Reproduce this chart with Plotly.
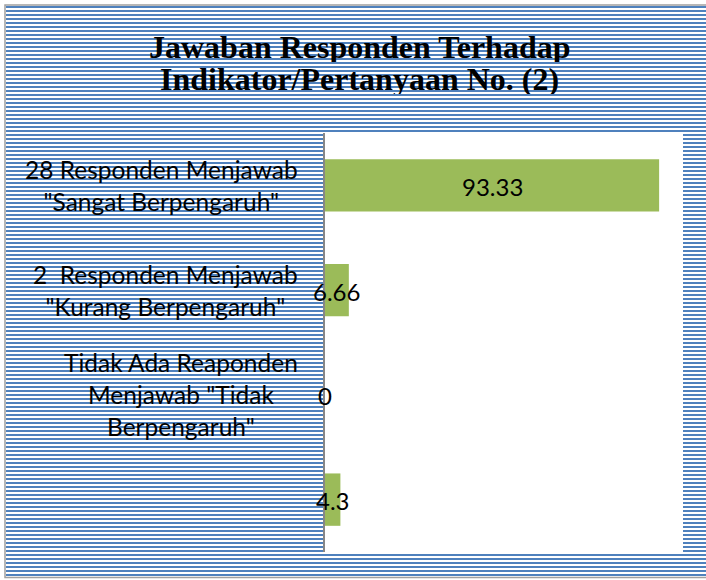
import base64
import plotly.graph_objects as go

# ---- data ----
categories = [
    '28 Responden Menjawab<br>"Sangat Berpengaruh"',
    '2  Responden Menjawab<br>"Kurang Berpengaruh"',
    'Tidak Ada Reaponden<br>Menjawab "Tidak<br>Berpengaruh"',
    '',
]
category_keys = ["c1", "c2", "c3", "c4"]
values = [93.33, 6.66, 0, 4.3]
value_labels = ["93.33", "6.66", "0", "4.3"]
title_lines = ["Jawaban Responden Terhadap", "Indikator/Pertanyaan No. (2)"]

# ---- layout geometry (pixels) ----
W, H = 706, 580
ML, MR, MT, MB = 325, 23, 133, 28
PW, PH = W - ML - MR, H - MT - MB


def px_x(px):
    return (px - ML) / PW


def px_y(py):
    return (H - MB - py) / PH


# striped background image
bx0, by0, bx1, by1 = 6, 6, 716, 577
bw, bh = bx1 - bx0, by1 - by0
svg = (
    f'<svg xmlns="http://www.w3.org/2000/svg" width="{bw}" height="{bh}" '
    f'viewBox="0 0 {bw} {bh}" preserveAspectRatio="none">'
    '<defs><pattern id="p" width="4" height="4" patternUnits="userSpaceOnUse">'
    '<rect width="4" height="4" fill="#ffffff"/>'
    '<rect y="0" width="4" height="2" fill="#4F81BD"/></pattern></defs>'
    f'<rect width="{bw}" height="{bh}" fill="url(#p)"/></svg>'
)
src = "data:image/svg+xml;base64," + base64.b64encode(svg.encode()).decode()

label_font = dict(family="Lato, Carlito, Calibri, sans-serif", size=24.5, color="black")
value_font = dict(family="Lato, Carlito, Calibri, sans-serif", size=24, color="black")
title_font = dict(family="Liberation Serif, Times New Roman, serif", size=32, color="black")

fig = go.Figure()
fig.add_trace(go.Bar(
    x=values, y=category_keys, orientation="h",
    marker=dict(color="#9BBB59", line=dict(width=0)),
    hoverinfo="skip", showlegend=False,
))

annotations = []
for key, v, t in zip(category_keys, values, value_labels):
    annotations.append(dict(
        x=v / 2, xref="x", y=key, yref="y", text=t, showarrow=False,
        xanchor="center", yanchor="middle", yshift=-1, font=value_font,
    ))
for key, lab in zip(category_keys, categories):
    if lab:
        annotations.append(dict(
            x=0, xref="paper", y=key, yref="y", text=lab, showarrow=False,
            xanchor="right", yanchor="middle", align="center", xshift=-25,
            font=label_font,
        ))
for i, line in enumerate(title_lines):
    annotations.append(dict(
        x=px_x(359), xref="paper", y=px_y(47 + 32.5 * i), yref="paper",
        text=f"<b>{line}</b>", showarrow=False, xanchor="center", yanchor="middle",
        height=30, valign="middle", borderpad=0, font=title_font,
    ))

fig.update_layout(
    width=W, height=H,
    margin=dict(l=ML, r=MR, t=MT, b=MB, pad=0),
    paper_bgcolor="white", plot_bgcolor="white",
    bargap=0.5,
    xaxis=dict(range=[0, 100], visible=False, fixedrange=True),
    yaxis=dict(
        autorange="reversed", showticklabels=False, ticks="",
        showline=True, linecolor="#878787", linewidth=2, showgrid=False,
        zeroline=False, fixedrange=True,
    ),
    images=[dict(
        source=src, xref="paper", yref="paper",
        x=px_x(bx0), y=px_y(by0), sizex=bw / PW, sizey=bh / PH,
        xanchor="left", yanchor="top", sizing="stretch", layer="below",
    )],
    shapes=[
        dict(type="rect", xref="paper", yref="paper", x0=0, x1=1, y0=0, y1=1,
             fillcolor="white", line=dict(width=0), layer="below"),
        dict(type="rect", xref="paper", yref="paper",
             x0=px_x(5), x1=px_x(730), y0=px_y(5), y1=px_y(577.5),
             fillcolor="rgba(0,0,0,0)", line=dict(color="#A0A0A0", width=1.5),
             layer="below"),
    ],
    annotations=annotations,
)

fig.write_html(
    "out.html",
    config={"displayModeBar": False, "staticPlot": True},
    post_script="document.body.style.margin='0';document.body.style.overflow='hidden';",
)
